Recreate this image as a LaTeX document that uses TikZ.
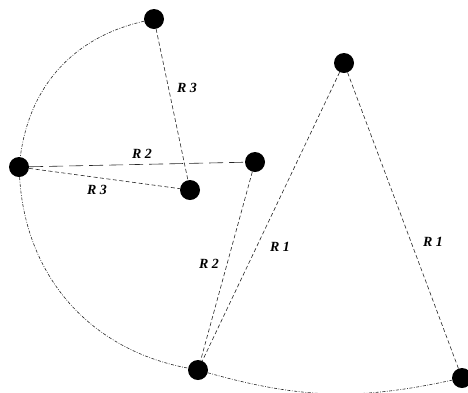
\documentclass[tikz,border=0pt]{standalone}
\usepackage{fontspec}
\setmainfont{Liberation Serif}
\usetikzlibrary{positioning}

\begin{document}
\begin{tikzpicture}[x=1pt, y=-1pt,
  dot/.style={circle, fill=black, inner sep=0pt, minimum size=20pt},
  rad/.style={draw=black!85, line width=0.6pt, dash pattern=on 4pt off 2.5pt},
  longrad/.style={draw=black!85, line width=0.6pt, dash pattern=on 14pt off 6pt},
  sweep/.style={draw=black!85, line width=0.6pt, dash pattern=on 3pt off 1.5pt on 0.8pt off 1.5pt},
  lbl/.style={font=\fontsize{14}{14}\selectfont\bfseries\itshape, inner sep=1pt}
]
\fill[white] (0,0) rectangle (468,392);
\useasboundingbox (0,0) rectangle (468,392);

% centres and ends
\node[dot] (top) at (154,19) {};
\node[dot] (left) at (19,167) {};
\node[dot] (mid) at (190,190) {};
\node[dot] (rtwo) at (255,162) {};
\node[dot] (apex) at (344,63) {};
\node[dot] (foot) at (198,370) {};
\node[dot] (corner) at (462,378) {};

% radii
\draw[rad] (top) -- (mid);
\draw[rad] (left) -- (mid);
\draw[longrad] (left) -- (rtwo);
\draw[rad] (rtwo) -- (foot);
\draw[rad] (apex) -- (foot);
\draw[rad] (apex) -- (corner);

% arcs
\draw[sweep] (top) to[bend right=35] (left);
\draw[sweep] (left) to[bend right=38] (foot);
\draw[sweep] (foot) to[bend right=14] (corner);

% labels
\node[lbl] (r3a) at (187,88) {R 3};
\node[lbl] (r3b) at (97,190) {R 3};
\node[lbl] (r2a) at (142,154) {R 2};
\node[lbl] (r2b) at (209,264) {R 2};
\node[lbl] (r1a) at (280,247) {R 1};
\node[lbl] (r1b) at (433,242) {R 1};
\end{tikzpicture}
\end{document}
